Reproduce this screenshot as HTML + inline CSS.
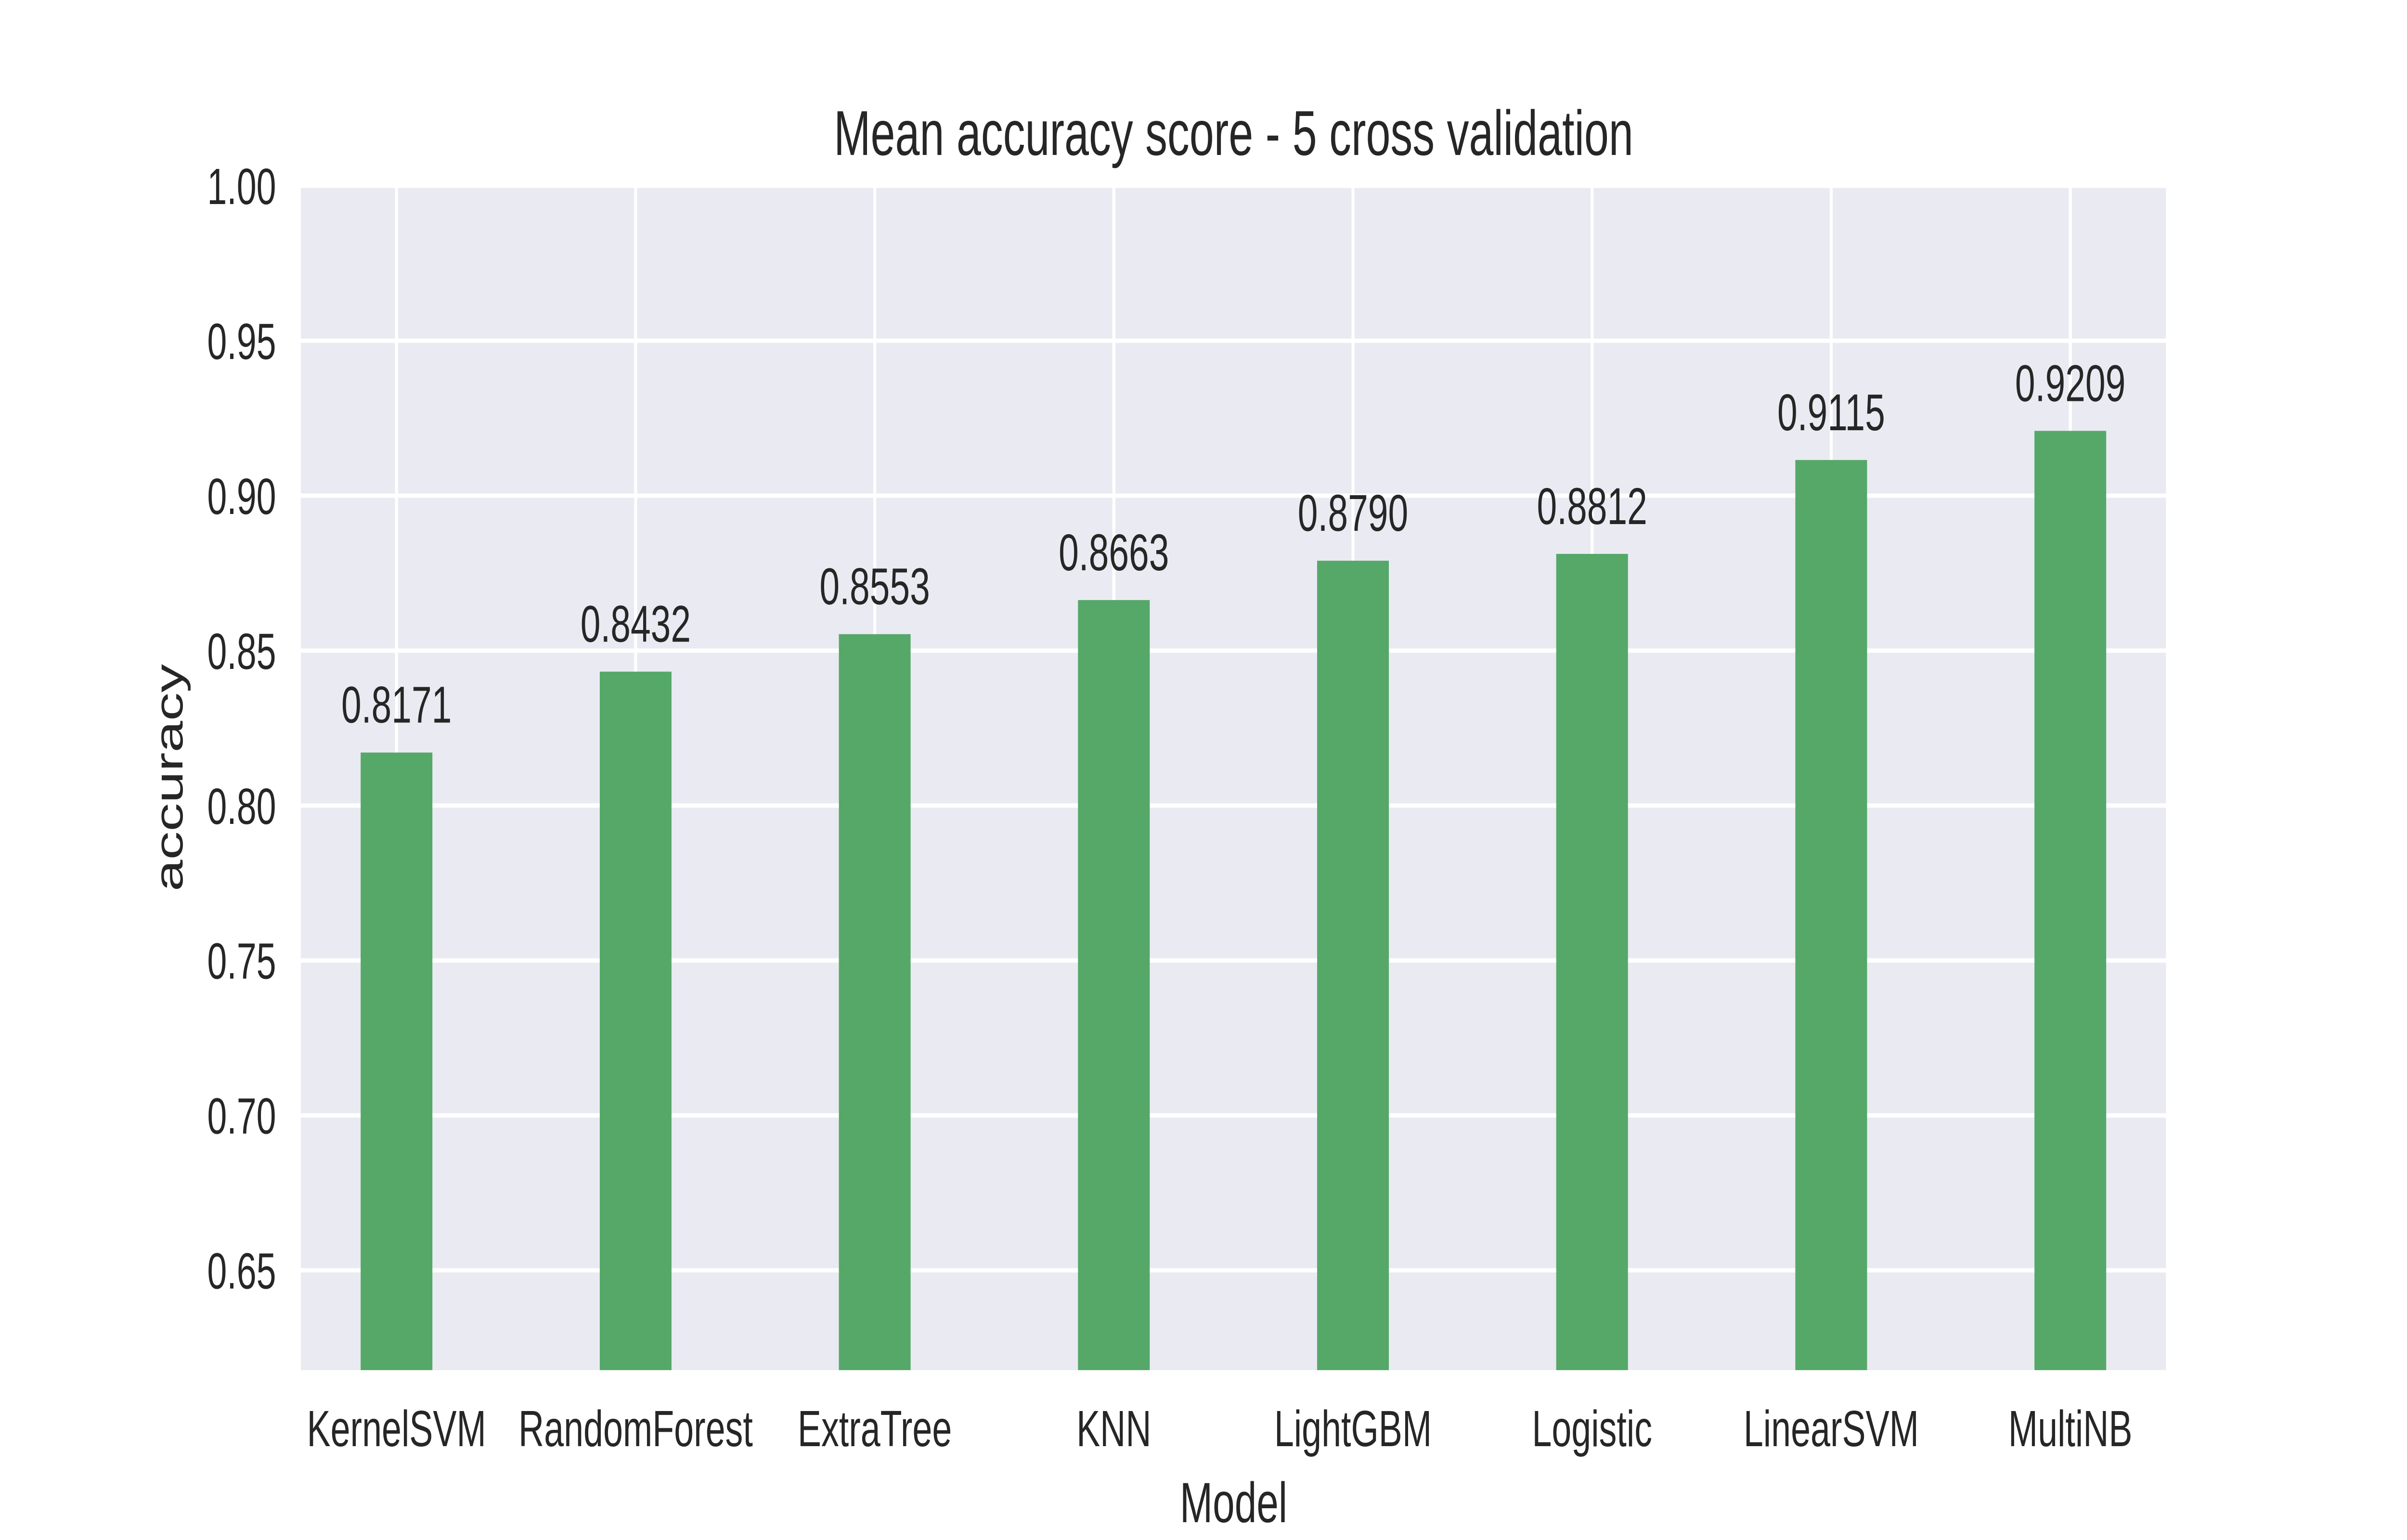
<!DOCTYPE html>
<html><head><meta charset="utf-8"><style>
html,body{margin:0;padding:0;background:#fff;width:100%;height:100%;overflow:hidden;}
svg{display:block;width:100vw;height:100vh;font-family:"Liberation Sans",Arial,sans-serif;}
</style></head><body>
<svg id="chart" viewBox="0 0 7200 3200" preserveAspectRatio="none" xmlns="http://www.w3.org/2000/svg">
<rect x="0" y="0" width="7200" height="3200" fill="#ffffff"/>
<rect id="plot" x="900" y="386" width="5579" height="2461" fill="#eaeaf2"/>
<g id="grid"></g>
<g id="bars"></g>
<g id="labels"></g>
<g id="yticks"></g>
<g id="xticks"></g>
<text x="3690" y="322" font-size="132" fill="#262626" text-anchor="middle">Mean accuracy score - 5 cross validation</text>
<text x="3690" y="3163" font-size="118" fill="#262626" text-anchor="middle">Model</text>
<text x="0" y="0" font-size="118" fill="#262626" text-anchor="middle" transform="translate(546,1616) rotate(-90)">accuracy</text>
</svg>
<script>
const categories = ["KernelSVM","RandomForest","ExtraTree","KNN","LightGBM","Logistic","LinearSVM","MultiNB"];
const accuracy = [0.8171,0.8432,0.8553,0.8663,0.8790,0.8812,0.9115,0.9209];
const yTicks = [0.65,0.70,0.75,0.80,0.85,0.90,0.95,1.00];
const yTickLabels = ["0.65","0.70","0.75","0.80","0.85","0.90","0.95","1.00"];

const NS = "http://www.w3.org/2000/svg";
const PL = 900, PR = 6479, PT = 386, PB = 2847;
const yMin = 0.6178, yMax = 1.0;
const xMin = -0.4, xMax = 7.4;
function yScale(v){ return PB - (v - yMin) / (yMax - yMin) * (PB - PT); }
function xScale(i){ return PL + (i - xMin) / (xMax - xMin) * (PR - PL); }
const barW = 0.3 * (PR - PL) / (xMax - xMin);
function mk(tag, attrs){ const e = document.createElementNS(NS, tag); for (const k in attrs) e.setAttribute(k, attrs[k]); return e; }

const grid = document.getElementById('grid');
const bars = document.getElementById('bars');
const labels = document.getElementById('labels');
const yt = document.getElementById('yticks');
const xt = document.getElementById('xticks');

yTicks.forEach((v, i) => {
  const y = yScale(v);
  const l = mk('line', {x1: PL, x2: PR, y1: y, y2: y, stroke: '#ffffff', 'stroke-width': 9});
  
  
  grid.appendChild(l);
  const t = mk('text', {x: 826, y: y + 38, 'font-size': 106, fill: '#262626', 'text-anchor': 'end'});
  t.textContent = yTickLabels[i];
  
  
  yt.appendChild(t);
});

categories.forEach((c, i) => {
  const cx = xScale(i);
  const g = mk('line', {x1: cx, x2: cx, y1: PT, y2: PB, stroke: '#ffffff', 'stroke-width': 9});
  
  
  grid.appendChild(g);
  const top = yScale(accuracy[i]);
  const r = mk('rect', {x: cx - barW/2, y: top, width: barW, height: PB - top, fill: '#55a868'});
  
  
  bars.appendChild(r);
  const lb = mk('text', {x: cx, y: top - 62, 'font-size': 108, fill: '#262626', 'text-anchor': 'middle'});
  lb.textContent = accuracy[i].toFixed(4);
  
  
  labels.appendChild(lb);
  const xl = mk('text', {x: cx, y: 3005, 'font-size': 106, fill: '#262626', 'text-anchor': 'middle'});
  xl.textContent = c;
  
  
  xt.appendChild(xl);
});
</script>
</body></html>
